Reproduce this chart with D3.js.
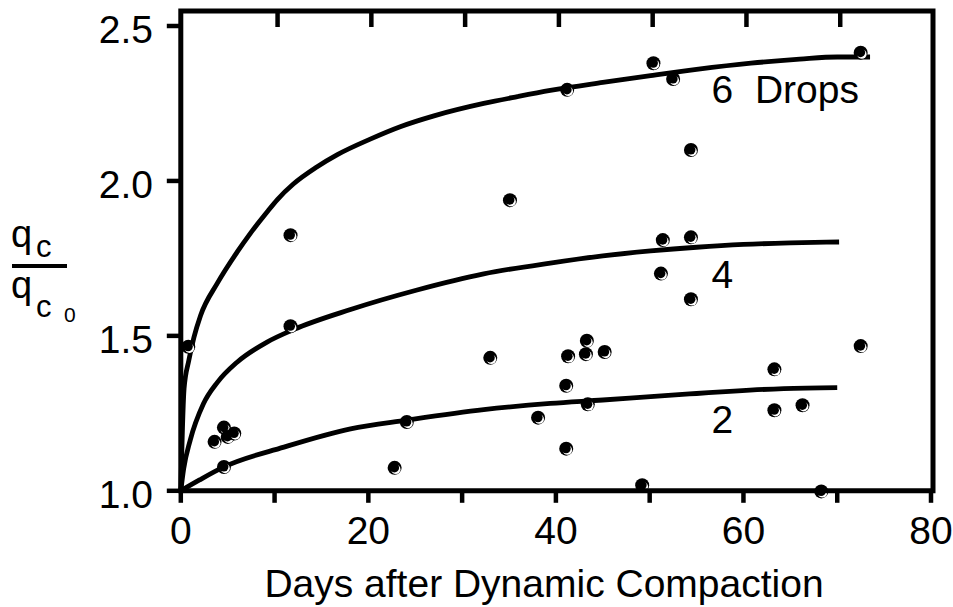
<!DOCTYPE html>
<html>
<head>
<meta charset="utf-8">
<script src="https://cdn.jsdelivr.net/npm/d3@7"></script>
<style>
  body { margin: 0; background: #fff; }
  svg text { font-family: "Liberation Sans", Arial, sans-serif; fill: #000; }
</style>
</head>
<body>
<div id="chart"></div>
<script>
// ------------------------------ DATA ------------------------------
var obsDays = [0.8, 11.7, 11.7, 4.6, 3.6, 5.0, 5.7, 4.6, 22.8, 24.1, 33.0, 38.1, 35.1,
               51.2, 54.4, 43.3, 41.3, 43.2, 45.2, 41.1, 43.4, 41.1, 49.2, 68.3,
               63.3, 63.3, 66.3, 72.5, 50.4, 52.5, 41.2, 54.4, 72.5, 51.4, 54.4];
var obsRatio = [1.465, 1.531, 1.825, 1.204, 1.158, 1.174, 1.185, 1.077, 1.074, 1.222, 1.429, 1.236, 1.938,
                1.701, 1.618, 1.484, 1.434, 1.441, 1.448, 1.339, 1.279, 1.136, 1.018, 0.998,
                1.392, 1.26, 1.276, 1.467, 2.38, 2.329, 2.294, 2.10, 2.414, 1.809, 1.818];

var curve6Days  = [0, 0.35, 0.85, 1.4, 2.1, 3.9, 6.0, 7.4, 9.2, 10.3, 12.0, 14.5, 16.7, 20.2, 23.4, 27.0, 32.3, 35.9, 39.4, 45, 50.1, 55, 60.8, 66, 70, 73.5];
var curve6Ratio = [1.0, 1.33, 1.42, 1.495, 1.565, 1.67, 1.77, 1.83, 1.9, 1.94, 1.99, 2.045, 2.085, 2.135, 2.175, 2.21, 2.25, 2.272, 2.292, 2.318, 2.34, 2.36, 2.38, 2.393, 2.4, 2.4];

var curve4Days  = [0, 0.3, 1.0, 2.4, 3.9, 6.0, 9.2, 12.0, 18.1, 25.2, 32.3, 39.4, 45, 50.1, 55, 60, 65, 70.2];
var curve4Ratio = [1.0, 1.07, 1.163, 1.28, 1.35, 1.415, 1.48, 1.52, 1.585, 1.648, 1.7, 1.735, 1.758, 1.774, 1.786, 1.795, 1.8, 1.803];

var curve2Days  = [0, 2.0, 4.6, 11.0, 18.1, 24.1, 32.3, 39.4, 45, 50.1, 55, 59, 64.3, 70];
var curve2Ratio = [1.0, 1.035, 1.077, 1.141, 1.2, 1.228, 1.262, 1.282, 1.293, 1.304, 1.314, 1.322, 1.33, 1.333];

var curveLabels = ["6  Drops", "4", "2"];
var labelDays   = [56.6, 56.6, 56.6];
var labelRatio  = [2.252, 1.654, 1.187];

var xTicks = [0, 10, 20, 30, 40, 50, 60, 70, 80];
var xTickLabels = [0, 20, 40, 60, 80];
var xTopTicks = [10, 20, 30, 40, 50, 60, 70];
var yTicks = [1.0, 1.5, 2.0, 2.5];

// ------------------------------ PLOTTING CONFIG -------------------------------
var width = 953,
    height = 607,
    left = 180.8,
    right = 931,
    frameRight = 933,
    frameTop = 11,
    bottom = 490.8,
    yTop = 26,
    lineW = 5,
    fontSize = 39;

var x = d3.scaleLinear().domain([0, 80]).range([left, right]);
var y = d3.scaleLinear().domain([1.0, 2.5]).range([bottom, yTop]);

// ------------------------------------ MAIN -------------------------------------
var svg = d3.select("#chart")
    .append("svg")
    .attr("width", width)
    .attr("height", height);

// fitted curves
var line = d3.line()
    .x(function (d) {return x(d[0]);})
    .y(function (d) {return y(d[1]);})
    .curve(d3.curveMonotoneX);

var curves = [d3.zip(curve6Days, curve6Ratio), d3.zip(curve4Days, curve4Ratio), d3.zip(curve2Days, curve2Ratio)];

svg.selectAll("path.fit")
    .data(curves)
    .enter()
    .append("path")
    .attr("class", "fit")
    .attr("d", line)
    .attr("fill", "none")
    .attr("stroke", "#000")
    .attr("stroke-width", 4.8)
    .attr("stroke-linecap", "butt");

// observed points: black ball with a white crescent low right
var pts = svg.selectAll("g.pt")
    .data(d3.zip(obsDays, obsRatio))
    .enter()
    .append("g")
    .attr("class", "pt")
    .attr("transform", function (d) {return "translate(" + x(d[0]) + "," + y(d[1]) + ")";});

pts.append("circle").attr("r", 7).attr("fill", "#000");
pts.append("circle").attr("cx", 1.2).attr("cy", 1.5).attr("r", 4.7).attr("fill", "#fff");
pts.append("circle").attr("cx", -0.2).attr("cy", -0.1).attr("r", 4.7).attr("fill", "#000");

// frame
svg.append("path")
    .attr("d", "M" + left + "," + bottom + "V" + frameTop + "H" + frameRight + "V" + bottom + "Z")
    .attr("fill", "none")
    .attr("stroke", "#000")
    .attr("stroke-width", lineW)
    .attr("stroke-linejoin", "miter");

// ticks
svg.selectAll("line.xt")
    .data(xTicks)
    .enter()
    .append("line")
    .attr("class", "xt")
    .attr("x1", function (d) {return x(d);})
    .attr("x2", function (d) {return x(d);})
    .attr("y1", bottom)
    .attr("y2", bottom + 12)
    .attr("stroke", "#000")
    .attr("stroke-width", 4.5);

svg.selectAll("line.xtt")
    .data(xTopTicks)
    .enter()
    .append("line")
    .attr("class", "xtt")
    .attr("x1", function (d) {return x(d) + 3;})
    .attr("x2", function (d) {return x(d) + 3;})
    .attr("y1", frameTop)
    .attr("y2", frameTop + 16)
    .attr("stroke", "#000")
    .attr("stroke-width", 4.5);

svg.selectAll("line.yt")
    .data(yTicks)
    .enter()
    .append("line")
    .attr("class", "yt")
    .attr("x1", left - 14)
    .attr("x2", left)
    .attr("y1", function (d) {return y(d);})
    .attr("y2", function (d) {return y(d);})
    .attr("stroke", "#000")
    .attr("stroke-width", 4.5);

// tick labels
svg.selectAll("text.xl")
    .data(xTickLabels)
    .enter()
    .append("text")
    .attr("class", "xl")
    .attr("x", function (d) {return x(d);})
    .attr("y", 544)
    .attr("text-anchor", "middle")
    .attr("font-size", fontSize)
    .text(function (d) {return d;});

svg.selectAll("text.yl")
    .data(yTicks)
    .enter()
    .append("text")
    .attr("class", "yl")
    .attr("x", 153)
    .attr("y", function (d) {return y(d) + 17;})
    .attr("text-anchor", "end")
    .attr("font-size", fontSize)
    .text(function (d) {return d.toFixed(1);});

// curve labels
svg.selectAll("text.cl")
    .data(d3.zip(curveLabels, labelDays, labelRatio))
    .enter()
    .append("text")
    .attr("class", "cl")
    .attr("x", function (d) {return x(d[1]);})
    .attr("y", function (d) {return y(d[2]);})
    .attr("font-size", fontSize)
    .style("white-space", "pre")
    .text(function (d) {return d[0];});

// -------------------------------- AXIS TITLES ----------------------------------
svg.append("text")
    .attr("x", 544)
    .attr("y", 597)
    .attr("text-anchor", "middle")
    .attr("font-size", fontSize)
    .text("Days after Dynamic Compaction");

// q_c / q_c0 fraction
svg.append("text").attr("x", 11).attr("y", 247).attr("font-size", 38).text("q");
svg.append("text").attr("x", 36).attr("y", 257).attr("font-size", 31).text("c");
svg.append("line")
    .attr("x1", 12).attr("x2", 67)
    .attr("y1", 266).attr("y2", 266)
    .attr("stroke", "#000")
    .attr("stroke-width", 4);
svg.append("text").attr("x", 11).attr("y", 298).attr("font-size", 38).text("q");
svg.append("text").attr("x", 36).attr("y", 317).attr("font-size", 31).text("c");
svg.append("text").attr("x", 64).attr("y", 322).attr("font-size", 21).text("0");
</script>
</body>
</html>
